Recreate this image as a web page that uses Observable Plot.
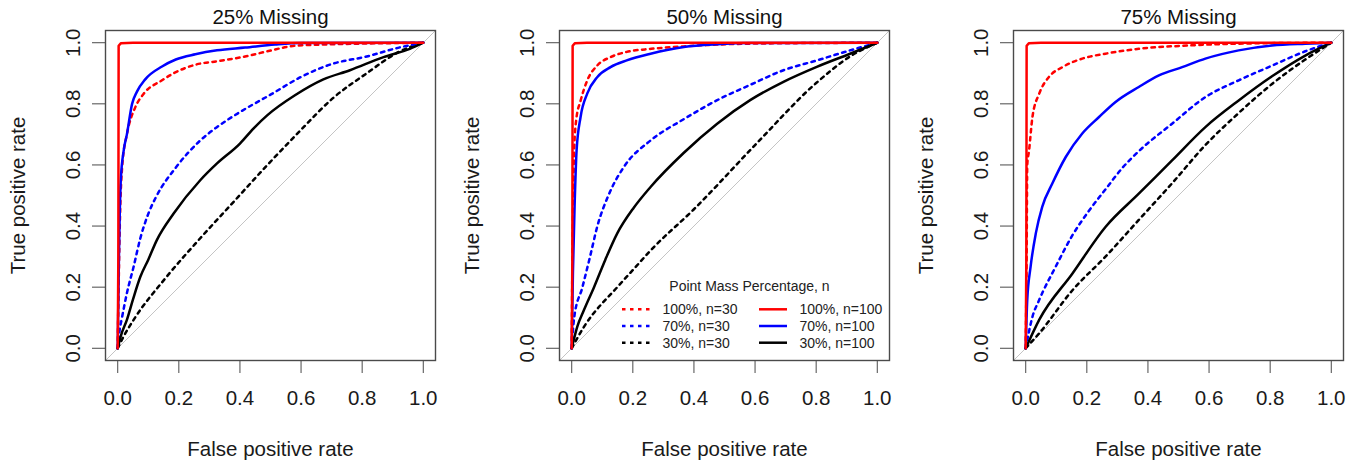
<!DOCTYPE html>
<html><head><meta charset="utf-8">
<script src="https://cdn.jsdelivr.net/npm/d3@7"></script>
<script src="https://cdn.jsdelivr.net/npm/@observablehq/plot@0.6"></script>
<style>
body{margin:0;background:#fff;font-family:"Liberation Sans",Arial,sans-serif;}
#wrap{position:relative;width:1362px;height:464px;display:flex;}
#wrap svg{display:block;}
</style></head><body><div id="wrap"></div>
<script>
// ---- data (false positive rate, true positive rate) ----
const panelTitles = ["25% Missing", "50% Missing", "75% Missing"];
const tickValues = [0, 0.2, 0.4, 0.6, 0.8, 1.0];
const chanceLine = [[-0.04, -0.04], [1.04, 1.04]];

const seriesKeys = ["100%, n=30", "70%, n=30", "30%, n=30", "100%, n=100", "70%, n=100", "30%, n=100"];
const seriesColors = ["#ff0000", "#0000ff", "#000000", "#ff0000", "#0000ff", "#000000"];
const seriesDashed = [true, true, true, false, false, false];

// 25% missing
const m25_p100_n30 = [[0,0],[0.003,0.2],[0.008,0.45],[0.015,0.6],[0.03,0.7],[0.058,0.79],[0.085,0.833],[0.145,0.877],[0.183,0.9],[0.254,0.928],[0.33,0.94],[0.417,0.955],[0.49,0.972],[0.58,0.99],[0.706,0.995],[0.92,0.999],[1,1]];
const m25_p70_n30 = [[0,0],[0.005,0.05],[0.014,0.10],[0.03,0.18],[0.052,0.267],[0.074,0.36],[0.1,0.44],[0.128,0.5],[0.189,0.59],[0.27,0.68],[0.325,0.724],[0.4,0.773],[0.5,0.83],[0.6,0.888],[0.7,0.93],[0.815,0.955],[0.924,0.985],[1,1]];
const m25_p30_n30 = [[0,0],[0.02,0.04],[0.052,0.093],[0.16,0.234],[0.27,0.36],[0.38,0.48],[0.49,0.6],[0.6,0.715],[0.706,0.82],[0.815,0.9],[0.92,0.97],[1,1]];
const m25_p100_n100 = [[0,0],[0.002,0.3],[0.003,0.99],[0.01,0.998],[0.05,1],[1,1]];
const m25_p70_n100 = [[0,0],[0.004,0.3],[0.01,0.55],[0.02,0.65],[0.03,0.7],[0.047,0.8],[0.063,0.84],[0.09,0.88],[0.145,0.922],[0.19,0.945],[0.254,0.962],[0.325,0.975],[0.417,0.984],[0.515,0.994],[0.6,0.999],[1,1]];
const m25_p30_n100 = [[0,0],[0.01,0.04],[0.03,0.093],[0.05,0.16],[0.074,0.234],[0.1,0.29],[0.128,0.354],[0.183,0.441],[0.27,0.55],[0.325,0.605],[0.4,0.67],[0.444,0.719],[0.49,0.763],[0.58,0.828],[0.673,0.88],[0.76,0.91],[0.87,0.953],[0.956,0.98],[1,1]];

// 50% missing
const m50_p100_n30 = [[0,0],[0.002,0.267],[0.005,0.5],[0.008,0.65],[0.015,0.75],[0.029,0.81],[0.051,0.877],[0.084,0.926],[0.127,0.953],[0.18,0.97],[0.26,0.98],[0.367,0.988],[0.584,0.997],[1,1]];
const m50_p70_n30 = [[0,0],[0.008,0.1],[0.035,0.2],[0.06,0.3],[0.084,0.4],[0.12,0.5],[0.171,0.594],[0.258,0.68],[0.367,0.75],[0.476,0.812],[0.584,0.862],[0.693,0.91],[0.802,0.942],[0.911,0.975],[1,1]];
const m50_p30_n30 = [[0,0],[0.04,0.07],[0.149,0.2],[0.2,0.256],[0.258,0.32],[0.4,0.455],[0.6,0.665],[0.8,0.868],[0.911,0.955],[1,1]];
const m50_p100_n100 = [[0,0],[0.002,0.3],[0.003,0.99],[0.01,0.998],[0.05,1],[1,1]];
const m50_p70_n100 = [[0,0],[0.004,0.25],[0.01,0.485],[0.016,0.648],[0.029,0.757],[0.051,0.834],[0.084,0.888],[0.127,0.92],[0.18,0.942],[0.258,0.964],[0.367,0.986],[0.476,0.995],[0.584,0.999],[1,1]];
const m50_p30_n100 = [[0,0],[0.018,0.07],[0.04,0.125],[0.073,0.2],[0.11,0.29],[0.149,0.376],[0.203,0.46],[0.258,0.528],[0.367,0.64],[0.476,0.735],[0.584,0.812],[0.693,0.872],[0.802,0.921],[0.911,0.964],[1,1]];

// 75% missing
const m75_p100_n30 = [[0,0],[0.003,0.3],[0.005,0.6],[0.011,0.648],[0.022,0.757],[0.044,0.833],[0.076,0.888],[0.12,0.92],[0.185,0.948],[0.261,0.964],[0.37,0.98],[0.534,0.991],[0.697,0.997],[1,1]];
const m75_p70_n30 = [[0,0],[0.022,0.103],[0.044,0.158],[0.098,0.267],[0.153,0.37],[0.207,0.45],[0.261,0.52],[0.316,0.59],[0.37,0.645],[0.479,0.735],[0.588,0.822],[0.697,0.877],[0.806,0.925],[0.915,0.972],[1,1]];
const m75_p30_n30 = [[0,0],[0.044,0.049],[0.153,0.19],[0.261,0.3],[0.37,0.42],[0.479,0.54],[0.588,0.665],[0.697,0.77],[0.806,0.865],[0.915,0.945],[1,1]];
const m75_p100_n100 = [[0,0],[0.002,0.3],[0.003,0.99],[0.01,0.998],[0.05,1],[1,1]];
const m75_p70_n100 = [[0,0],[0.005,0.158],[0.016,0.267],[0.033,0.376],[0.054,0.463],[0.087,0.539],[0.131,0.626],[0.185,0.703],[0.24,0.757],[0.294,0.806],[0.37,0.855],[0.436,0.893],[0.512,0.92],[0.588,0.948],[0.697,0.975],[0.806,0.991],[0.915,0.997],[1,1]];
const m75_p30_n100 = [[0,0],[0.044,0.093],[0.153,0.245],[0.261,0.397],[0.37,0.506],[0.479,0.615],[0.588,0.724],[0.697,0.811],[0.806,0.89],[0.915,0.958],[1,1]];

const panelSeries = [
  [m25_p100_n30, m25_p70_n30, m25_p30_n30, m25_p100_n100, m25_p70_n100, m25_p30_n100],
  [m50_p100_n30, m50_p70_n30, m50_p30_n30, m50_p100_n100, m50_p70_n100, m50_p30_n100],
  [m75_p100_n30, m75_p70_n30, m75_p30_n30, m75_p100_n100, m75_p70_n100, m75_p30_n100]
];

const legendTitle = "Point Mass Percentage, n";

// ---- drawing ----
const FONT = '"Liberation Sans", Arial, sans-serif';
const drawOrder = [2, 1, 0, 5, 4, 3];

function panel(title, series) {
  const marks = [
    Plot.line(chanceLine, {x: d => d[0], y: d => d[1], stroke: "#c4c4c4", strokeWidth: 1}),
    ...drawOrder.map(i => Plot.line(series[i], {
      x: d => d[0], y: d => d[1],
      stroke: seriesColors[i], strokeWidth: 2.5,
      strokeDasharray: seriesDashed[i] ? "3.5,4.5" : null,
      curve: i === 3 ? "linear" : "monotone-x"
    })),
    Plot.frame({stroke: "#4a4a4a", strokeWidth: 1.4}),
    Plot.axisX({ticks: tickValues, tickFormat: d3.format(".1f"), tickSize: 13, tickPadding: 17,
      fontSize: 20.5, stroke: "#4a4a4a", label: "False positive rate", labelAnchor: "center",
      labelArrow: "none", labelOffset: 95}),
    Plot.axisY({ticks: tickValues, tickFormat: d3.format(".1f"), tickSize: 13, tickPadding: 13, tickRotate: -90,
      fontSize: 20.5, stroke: "#4a4a4a", label: "True positive rate", labelAnchor: "center",
      labelArrow: "none", labelOffset: 95}),
    Plot.text([title], {frameAnchor: "top", lineAnchor: "middle", dy: -13, fontSize: 20.5, fill: "#111"})
  ];
  return Plot.plot({
    width: 454, height: 464,
    marginLeft: 105, marginRight: 19, marginTop: 30, marginBottom: 104,
    x: {domain: [-0.04, 1.04]},
    y: {domain: [-0.04, 1.04]},
    style: {fontFamily: FONT, fontSize: "20.5px", color: "#1a1a1a", background: "#fff", overflow: "visible"},
    marks
  });
}

const wrap = document.getElementById("wrap");
panelTitles.forEach((t, i) => wrap.appendChild(panel(t, panelSeries[i])));

// legend overlay on middle panel
const lg = d3.select(wrap).append("svg")
  .attr("width", 300).attr("height", 90)
  .style("position", "absolute").style("left", "600px").style("top", "270px")
  .style("font-family", FONT).style("font-size", "14px");
lg.append("text").attr("x", 149.5).attr("y", 15.7).attr("dy", "0.35em")
  .attr("text-anchor", "middle").attr("fill", "#222").text(legendTitle);
seriesKeys.forEach((k, i) => {
  const col = seriesDashed[i] ? 0 : 1;
  const row = i % 3;
  const y = 39.3 + 16.7 * row;
  const x0 = col === 0 ? 22 : 159;
  lg.append("line").attr("x1", x0).attr("x2", x0 + 28).attr("y1", y).attr("y2", y)
    .attr("stroke", seriesColors[i]).attr("stroke-width", 2.5)
    .attr("stroke-dasharray", seriesDashed[i] ? "3.5,4.5" : null);
  lg.append("text").attr("x", x0 + 40.5).attr("y", y).attr("dy", "0.35em")
    .attr("fill", "#222").text(k);
});
</script></body></html>
